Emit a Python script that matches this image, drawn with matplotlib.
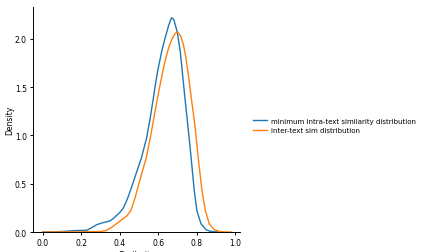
import numpy as np
import matplotlib.pyplot as plt

# density curves
intra_x = [0.0, 0.1, 0.17, 0.23, 0.26, 0.28, 0.31, 0.35, 0.37, 0.40, 0.42, 0.44, 0.46, 0.48,
           0.513, 0.54, 0.56, 0.575, 0.588, 0.60, 0.62, 0.638, 0.655, 0.67, 0.682, 0.70,
           0.716, 0.729, 0.74, 0.755, 0.772, 0.788, 0.802, 0.823, 0.849, 0.87, 0.9, 0.93]
intra_y = [0.0, 0.005, 0.015, 0.018, 0.05, 0.075, 0.095, 0.115, 0.145, 0.20, 0.25, 0.34, 0.45, 0.57,
           0.765, 0.97, 1.19, 1.38, 1.55, 1.69, 1.88, 2.02, 2.14, 2.22, 2.20, 2.07,
           1.86, 1.60, 1.38, 1.10, 0.765, 0.43, 0.22, 0.086, 0.024, 0.008, 0.002, 0.0]

inter_x = [0.0, 0.2, 0.3, 0.33, 0.36, 0.38, 0.41, 0.44, 0.46, 0.48, 0.50, 0.538, 0.56, 0.58,
           0.60, 0.616, 0.635, 0.655, 0.675, 0.69, 0.703, 0.718, 0.733, 0.745, 0.758, 0.772,
           0.793, 0.809, 0.828, 0.846, 0.866, 0.892, 0.92, 0.95, 0.98]
inter_y = [0.0, 0.002, 0.005, 0.015, 0.05, 0.08, 0.125, 0.17, 0.23, 0.35, 0.50, 0.765, 0.98, 1.20,
           1.42, 1.58, 1.76, 1.91, 2.01, 2.06, 2.07, 2.03, 1.93, 1.80, 1.62, 1.40,
           1.08, 0.765, 0.43, 0.22, 0.086, 0.024, 0.006, 0.001, 0.0]

labels = ["minimum intra-text similarity distribution", "inter-text sim distribution"]

plt.rcParams['font.size'] = 5.5
fig = plt.figure(figsize=(4.23, 2.53), dpi=100)
ax = fig.add_axes([0.078, 0.079, 0.489, 0.889])

ax.plot(intra_x, intra_y, color="#1f77b4", lw=1.0, label=labels[0])
ax.plot(inter_x, inter_y, color="#ff7f0e", lw=1.0, label=labels[1])

ax.set_xlim(-0.05, 1.025)
ax.set_ylim(0, 2.33)
ax.set_xticks(np.arange(0, 1.01, 0.2))
ax.set_yticks(np.arange(0, 2.01, 0.5))
ax.set_xlabel("Similarity", labelpad=2)
ax.set_ylabel("Density")
ax.yaxis.set_label_coords(-0.092, 0.5)
ax.spines['top'].set_visible(False)
ax.spines['right'].set_visible(False)
ax.tick_params(length=2.5, width=0.7, pad=2)
for s in ax.spines.values():
    s.set_linewidth(0.7)

fig.legend(loc="center left", bbox_to_anchor=(0.583, 0.50), frameon=False,
           handlelength=2.0, handletextpad=0.6, fontsize=5.0)

fig.savefig("out.png", dpi=100)
